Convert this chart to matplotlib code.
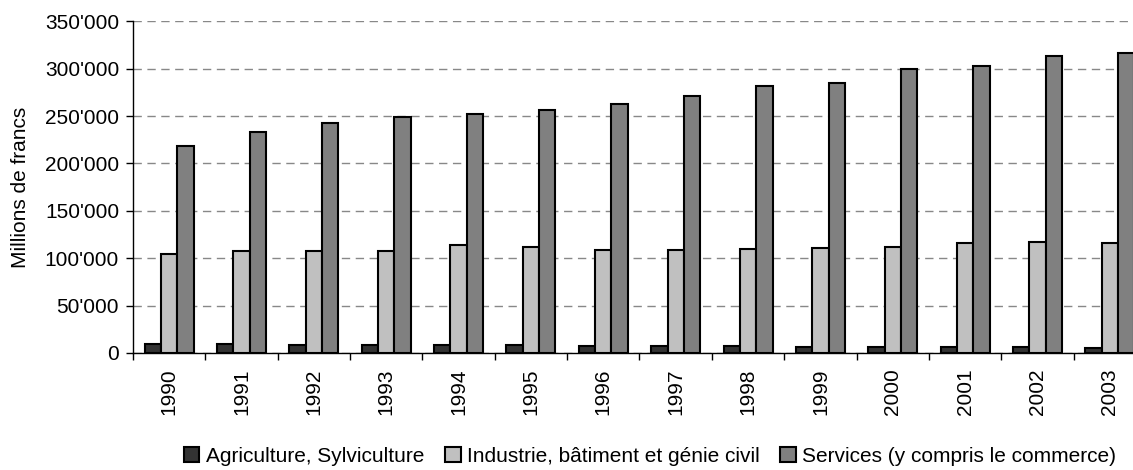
import numpy as np
import matplotlib.pyplot as plt
from matplotlib.ticker import FuncFormatter, FixedLocator

plt.rcParams['font.family'] = ['Liberation Sans', 'DejaVu Sans']

years = ["1990", "1991", "1992", "1993", "1994", "1995", "1996",
         "1997", "1998", "1999", "2000", "2001", "2002", "2003"]
agriculture = [9800, 9800, 8700, 8500, 8000, 8000, 7400,
               7000, 7400, 6700, 6700, 6000, 6000, 5700]
industrie = [104000, 107900, 107900, 107700, 113500, 111400, 108900,
             108900, 109300, 110400, 111700, 116000, 116700, 115600]
services = [218200, 233000, 242800, 248600, 252300, 256200, 262800,
            271000, 281500, 285000, 300100, 303300, 313100, 317000]
labels = ["Agriculture, Sylviculture", "Industrie, bâtiment et génie civil",
          "Services (y compris le commerce)"]
colors = ["#333333", "#c0c0c0", "#808080"]

FS = 15

fig = plt.figure(figsize=(11.33, 4.70), dpi=100)
# axes runs slightly past the right edge, like the cropped original
ax = fig.add_axes([133 / 1133, 1 - 353 / 470, 1013 / 1133, (353 - 21.3) / 470])

x = np.arange(len(years))
w = 0.226
for i, (vals, lab, col) in enumerate(zip([agriculture, industrie, services], labels, colors)):
    ax.bar(x + (i - 1) * w, vals, width=w, color=col, edgecolor="black",
           linewidth=1.5, label=lab, zorder=3)

ax.set_xlim(-0.5, len(years) - 0.5)
ax.set_ylim(0, 350000)
ax.set_yticks(np.arange(0, 350001, 50000))
ax.yaxis.set_major_formatter(FuncFormatter(lambda v, p: f"{int(v):,}".replace(",", "'")))
ax.grid(axis="y", color="#888888", linestyle=(0, (6, 4)), linewidth=1, zorder=0)

ax.set_xticks(x)
ax.set_xticklabels(years, rotation=90)
ax.xaxis.set_minor_locator(FixedLocator(np.arange(-0.5, len(years), 1)))
ax.tick_params(axis="x", which="major", length=0, pad=11, labelsize=FS)
ax.tick_params(axis="x", which="minor", length=5, width=1, color="black")
ax.tick_params(axis="y", length=5, width=1, labelsize=FS, pad=5)

ax.spines["top"].set_visible(False)
ax.spines["right"].set_visible(False)
ax.spines["left"].set_linewidth(1)
ax.spines["bottom"].set_linewidth(1)

ax.set_ylabel("Millions de francs", fontsize=FS, labelpad=11)

fig.legend(loc="center", bbox_to_anchor=(650 / 1133, 1 - 456 / 470), ncol=3,
           frameon=False, fontsize=FS, handlelength=0.75, handleheight=0.75,
           handletextpad=0.3, columnspacing=1.0, borderpad=0)

fig.savefig("out.png", dpi=100)
